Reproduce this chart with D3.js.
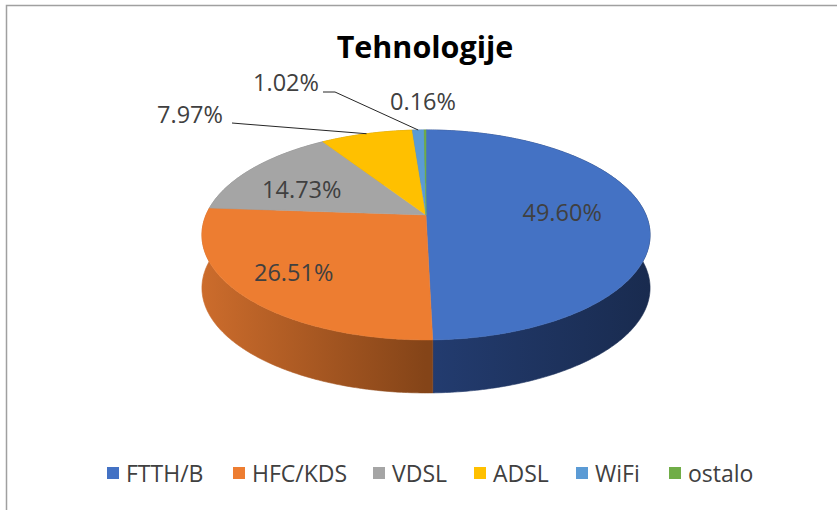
<!DOCTYPE html>
<html><head><meta charset="utf-8">
<script src="https://cdn.jsdelivr.net/npm/d3@7"></script>
<style>html,body{margin:0;padding:0;background:#fff;}svg{display:block;font-family:"Open Sans",sans-serif;}</style>
</head><body>
<svg id="chart" width="837" height="510"></svg>
<script>
const title = "Tehnologije";
const categories = ["FTTH/B", "HFC/KDS", "VDSL", "ADSL", "WiFi", "ostalo"];
const values = [49.60, 26.51, 14.73, 7.97, 1.02, 0.16];
const labels = ["49.60%", "26.51%", "14.73%", "7.97%", "1.02%", "0.16%"];
const topColors = ["#4472C4", "#ED7D31", "#A5A5A5", "#FFC000", "#5B9BD5", "#70AD47"];
const sideLight = ["#233C70", "#CC6C2C", "#8A8A8A", "#D9A300", "#4D84B5", "#5E9239"];
const sideDark = ["#192B4F", "#844418", "#6E6E6E", "#B08400", "#3C6A93", "#4A752C"];

const svg = d3.select("#chart");
// frame
svg.append("path").attr("d", "M6.5,510 V5.5 H837").attr("fill", "none").attr("stroke", "#a0a0a0").attr("stroke-width", 1.5);

// title
svg.append("text").attr("x", 425).attr("y", 58).attr("text-anchor", "middle")
  .attr("font-weight", "bold").attr("font-size", 30.5).attr("fill", "#000").text(title);

// perspective projection of a unit disk
const cx = 426, cy0 = 215, a = 101.2, b = 220, k = 0.19, depth = 53;
function P(theta, r = 1) {
  const X = r * Math.sin(theta), Z = -r * Math.cos(theta);
  const w = 1 - k * Z;
  return [cx + b * X / w, cy0 + a * Z / w];
}
const pie = d3.pie().sort(null).value(d => d).startAngle(0).endAngle(2 * Math.PI);
const arcs = pie(values);

const defs = svg.append("defs");
arcs.forEach((d, i) => {
  const g = defs.append("linearGradient").attr("id", "side" + i)
    .attr("gradientUnits", "userSpaceOnUse").attr("x1", 202).attr("x2", 650).attr("y1", 0).attr("y2", 0);
  if (i === 0) {
    g.append("stop").attr("offset", 0.5).attr("stop-color", sideLight[i]);
    g.append("stop").attr("offset", 1).attr("stop-color", sideDark[i]);
  } else {
    g.append("stop").attr("offset", 0).attr("stop-color", sideLight[i]);
    g.append("stop").attr("offset", 0.5).attr("stop-color", sideDark[i]);
  }
});

function rimPts(a0, a1) {
  const pts = [];
  const steps = Math.max(2, Math.ceil((a1 - a0) / (Math.PI / 180) * 1.5));
  for (let s = 0; s <= steps; s++) pts.push(P(a0 + (a1 - a0) * s / steps));
  return pts;
}
const line = d3.line();
// side walls
const walls = svg.append("g");
arcs.forEach((d, i) => {
  const top = rimPts(d.startAngle, d.endAngle);
  const bottom = top.map(p => [p[0], p[1] + depth]).reverse();
  walls.append("path").attr("d", line(top.concat(bottom)) + "Z")
    .attr("fill", `url(#side${i})`).attr("stroke", `url(#side${i})`).attr("stroke-width", 0.6);
});
// top faces
const tops = svg.append("g");
arcs.forEach((d, i) => {
  const pts = [P(0, 0)].concat(rimPts(d.startAngle, d.endAngle));
  tops.append("path").attr("d", line(pts) + "Z")
    .attr("fill", topColors[i]).attr("stroke", topColors[i]).attr("stroke-width", 0.5);
});

// data labels
const labelG = svg.append("g").attr("font-size", 23.5).attr("fill", "#404040").attr("text-anchor", "middle");
const insideR = [0.62, 0.75, 0.70];
const insideDy = [7, 8, 17];
arcs.slice(0, 3).forEach((d, i) => {
  const p = P((d.startAngle + d.endAngle) / 2, insideR[i]);
  labelG.append("text").attr("x", p[0]).attr("y", p[1] + insideDy[i]).text(labels[i]);
});
// outside labels with leaders
const outside = [
  {i: 3, tx: 190, ty: 123, lead: [[232, 123], [244, 124]]},
  {i: 4, tx: 286, ty: 91, lead: [[323, 92], [335, 92]]},
  {i: 5, tx: 423, ty: 110, lead: null}
];
outside.forEach(o => {
  const d = arcs[o.i];
  labelG.append("text").attr("x", o.tx).attr("y", o.ty).text(labels[o.i]);
  if (o.lead) {
    const rim = P((d.startAngle + d.endAngle) / 2, 1);
    svg.append("path").attr("d", line(o.lead.concat([rim]))).attr("fill", "none")
      .attr("stroke", "#262626").attr("stroke-width", 1);
  }
});

// legend
const legendX = [107, 233, 373, 474, 576, 669];
const lg = svg.append("g").attr("font-size", 23).attr("fill", "#404040");
categories.forEach((c, i) => {
  lg.append("rect").attr("x", legendX[i]).attr("y", 467).attr("width", 12).attr("height", 12).attr("fill", topColors[i]);
  lg.append("text").attr("x", legendX[i] + 19).attr("y", 481.5).text(c);
});
</script>
</body></html>
